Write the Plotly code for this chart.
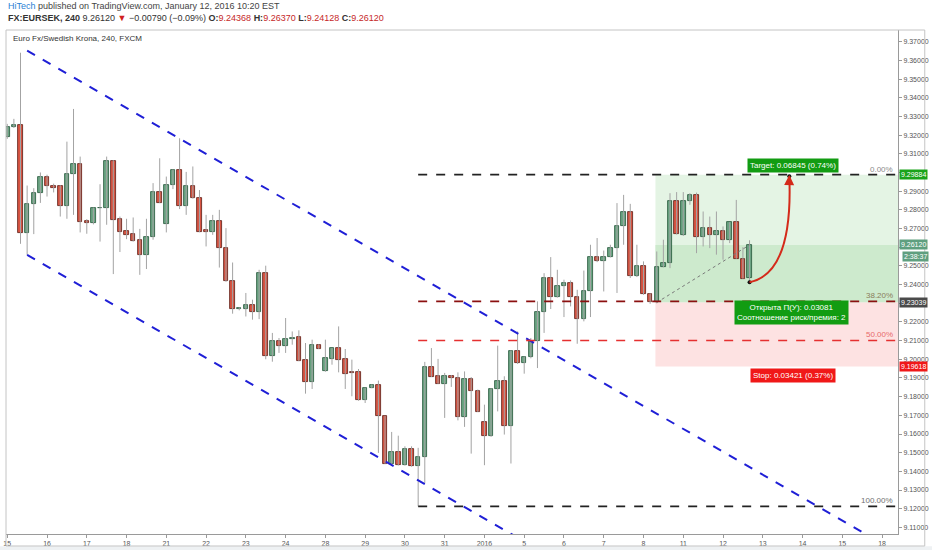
import plotly.graph_objects as go

# EUR/SEK, 240 min bars (6 per trading day), Dec 15 2015 .. Jan 12 2016
day_labels = ["15", "16", "17", "18", "21", "22", "23", "24", "28", "29", "30", "31",
              "2016", "5", "6", "7", "8", "11", "12", "13", "14", "15", "18"]
bars_per_day = 6

# right price scale (labels hidden where a price tag covers them)
price_ticks = [9.11, 9.12, 9.13, 9.14, 9.15, 9.16, 9.17, 9.18, 9.19, 9.20, 9.21, 9.22, 9.23,
               9.24, 9.25, 9.26, 9.27, 9.28, 9.29, 9.30, 9.31, 9.32, 9.33, 9.34, 9.35, 9.36, 9.37]
covered_ticks = [9.23, 9.26, 9.30]

opens = [
    9.3192, 9.3242, 9.3255, 9.2675, 9.2830, 9.2889,
    9.2975, 9.2928, 9.2925, 9.2823, 9.2991, 9.3046,
    9.2741, 9.2727, 9.2809, 9.2809, 9.3064, 9.2750,
    9.2688, 9.2672, 9.2636, 9.2556, 9.2657, 9.2895,
    9.2724, 9.2934, 9.3014, 9.2823, 9.2925, 9.2863,
    9.2693, 9.2679, 9.2741, 9.2595, 9.2420, 9.2270,
    9.2269, 9.2288, 9.2253, 9.2461, 9.2019, 9.2096,
    9.2073, 9.2109, 9.2117, 9.1998, 9.1876, 9.2078,
    9.1935, 9.2003, 9.2060, 9.2002, 9.1932, 9.1932,
    9.1780, 9.1847, 9.1860, 9.1695, 9.1440, 9.1504,
    9.1433, 9.1522, 9.1427, 9.1478, 9.1959, 9.1909,
    9.1868, 9.1909, 9.1900, 9.1691, 9.1895, 9.1829,
    9.1663, 9.1588, 9.1841, 9.1886, 9.1641, 9.2042,
    9.1980, 9.2010, 9.2096, 9.2251, 9.2435, 9.2336,
    9.2390, 9.2408, 9.2333, 9.2216, 9.2363, 9.2547,
    9.2524, 9.2547, 9.2595, 9.2711, 9.2791, 9.2447,
    9.2502, 9.2351, 9.2304, 9.2494, 9.2515, 9.2848,
    9.2663, 9.2848, 9.2880, 9.2652, 9.2705, 9.2666,
    9.2689, 9.2636, 9.2734, 9.2538, 9.24368,
]
highs = [
    9.3260, 9.3287, 9.3641, 9.2930, 9.2916, 9.3000,
    9.2988, 9.2940, 9.2932, 9.3165, 9.3340, 9.3085,
    9.2750, 9.2812, 9.2937, 9.3085, 9.3066, 9.2764,
    9.2752, 9.2759, 9.2698, 9.2752, 9.2943, 9.3076,
    9.2978, 9.3016, 9.3183, 9.3003, 9.3032, 9.2906,
    9.2773, 9.2773, 9.2800, 9.2702, 9.2518, 9.2278,
    9.2355, 9.2319, 9.2479, 9.2501, 9.2141, 9.2114,
    9.2221, 9.2149, 9.2155, 9.2087, 9.2105, 9.2080,
    9.2105, 9.2060, 9.2176, 9.2055, 9.1998, 9.1948,
    9.1848, 9.1865, 9.1886, 9.1697, 9.1611, 9.1591,
    9.1534, 9.1534, 9.1526, 9.1986, 9.2060, 9.2002,
    9.1927, 9.1916, 9.1930, 9.1935, 9.1905, 9.1838,
    9.1757, 9.1845, 9.2073, 9.1909, 9.2048, 9.2149,
    9.2015, 9.2114, 9.2310, 9.2461, 9.2547, 9.2479,
    9.2426, 9.2422, 9.2372, 9.2475, 9.2613, 9.2649,
    9.2582, 9.2613, 9.2836, 9.2880, 9.2832, 9.2613,
    9.2524, 9.2353, 9.2577, 9.2640, 9.2889, 9.2895,
    9.2895, 9.2889, 9.2892, 9.2791, 9.2764, 9.2791,
    9.2711, 9.2734, 9.2853, 9.2600, 9.26370,
]
lows = [
    9.3180, 9.3238, 9.2618, 9.2559, 9.2670, 9.2837,
    9.2871, 9.2893, 9.2764, 9.2752, 9.2773, 9.2679,
    9.2672, 9.2722, 9.2630, 9.2720, 9.2456, 9.2574,
    9.2643, 9.2630, 9.2452, 9.2483, 9.2640, 9.2836,
    9.2679, 9.2911, 9.2804, 9.2773, 9.2860, 9.2680,
    9.2604, 9.2666, 9.2491, 9.2415, 9.2244, 9.2262,
    9.2229, 9.2212, 9.2215, 9.2000, 9.1987, 9.2034,
    9.2034, 9.2078, 9.1990, 9.1816, 9.1841, 9.2055,
    9.1933, 9.1971, 9.1930, 9.1841, 9.1802, 9.1778,
    9.1766, 9.1845, 9.1499, 9.1440, 9.1436, 9.1431,
    9.1431, 9.1425, 9.12128, 9.1338, 9.1905, 9.1868,
    9.1686, 9.1852, 9.1673, 9.1638, 9.1495, 9.1718,
    9.1433, 9.1585, 9.1721, 9.1597, 9.1442, 9.1975,
    9.1923, 9.2005, 9.1953, 9.2141, 9.2269, 9.2330,
    9.2226, 9.2283, 9.2083, 9.2203, 9.2226, 9.2520,
    9.2363, 9.2545, 9.2355, 9.2613, 9.2435, 9.2440,
    9.2345, 9.2297, 9.2300, 9.2492, 9.2488, 9.2668,
    9.2660, 9.2827, 9.2568, 9.2604, 9.2595, 9.2560,
    9.2533, 9.2622, 9.2538, 9.2431, 9.24128,
]
closes = [
    9.3245, 9.3255, 9.2675, 9.2830, 9.2889, 9.2975,
    9.2925, 9.2919, 9.2823, 9.2991, 9.3046, 9.2737,
    9.2727, 9.2809, 9.2811, 9.3064, 9.2747, 9.2684,
    9.2666, 9.2634, 9.2556, 9.2657, 9.2895, 9.2839,
    9.2934, 9.3014, 9.2823, 9.2925, 9.2863, 9.2684,
    9.2679, 9.2741, 9.2595, 9.2420, 9.2269, 9.2272,
    9.2288, 9.2253, 9.2461, 9.2019, 9.2096, 9.2073,
    9.2109, 9.2114, 9.1992, 9.1876, 9.2078, 9.2057,
    9.2007, 9.2060, 9.1998, 9.1923, 9.1927, 9.1780,
    9.1847, 9.1860, 9.1695, 9.1440, 9.1504, 9.1433,
    9.1522, 9.1427, 9.1478, 9.1959, 9.1905, 9.1868,
    9.1909, 9.1900, 9.1691, 9.1895, 9.1829, 9.1718,
    9.1588, 9.1841, 9.1886, 9.1641, 9.2042, 9.1980,
    9.2010, 9.2096, 9.2251, 9.2435, 9.2336, 9.2393,
    9.2408, 9.2333, 9.2216, 9.2363, 9.2547, 9.2524,
    9.2547, 9.2595, 9.2711, 9.2791, 9.2447, 9.2502,
    9.2351, 9.2304, 9.2494, 9.2515, 9.2848, 9.2670,
    9.2848, 9.2880, 9.2652, 9.2705, 9.2666, 9.2689,
    9.2636, 9.2734, 9.2538, 9.2431, 9.26120,
]

# drawings on the chart
channel_x = [3, 140]
channel_upper = [9.3652, 9.0850]
channel_lower = [9.2559, 8.9757]

fib_start = 62
fib_low = 9.12128
fib_high = 9.29884
fib_levels = [0.0, 0.382, 0.5, 1.0]
fib_labels = ["0.00%", "38.20%", "50.00%", "100.00%"]
fib_line_colors = ["#222222", "#8b1010", "#e53030", "#222222"]
fib_text_colors = ["#8a8a8a", "#8a7d5a", "#e86a6a", "#707070"]

pos_start = 97.8
entry = 9.23039
target = 9.29884
stop = 9.19618
last_price = 9.26120
countdown = "2:38:37"

arrow_from = (112, 9.2412)
arrow_ctrl = (118.6, 9.2461)
arrow_to = (118, 9.2980)

x_max = 134.4
y_min, y_max = 9.10647, 9.37626

FONT = "Liberation Sans, Arial, sans-serif"
UP_FILL, UP_LINE = "#6ba583", "#225437"
DN_FILL, DN_LINE = "#d75442", "#5b1a13"

idx = list(range(len(opens)))
tick_vals = [i * bars_per_day for i in range(len(day_labels))]
price_text = ["" if t in covered_ticks else f"{t:.5f}" for t in price_ticks]

fig = go.Figure()

# wicks
wx, wy = [], []
for i, h, l in zip(idx, highs, lows):
    wx += [i, i, None]
    wy += [l, h, None]
fig.add_trace(go.Scatter(x=wx, y=wy, mode="lines", line=dict(color="#a3a3a3", width=1),
                         hoverinfo="skip", showlegend=False))

# bodies
base = [min(o, c) for o, c in zip(opens, closes)]
height = [max(abs(c - o), 0.00008) for o, c in zip(opens, closes)]
fill = [UP_FILL if c >= o else DN_FILL for o, c in zip(opens, closes)]
edge = [UP_LINE if c >= o else DN_LINE for o, c in zip(opens, closes)]
fig.add_trace(go.Bar(x=idx, y=height, base=base, width=0.68,
                     marker=dict(color=fill, line=dict(color=edge, width=0.8)),
                     showlegend=False, hoverinfo="skip"))

# parallel channel
for ys in (channel_upper, channel_lower):
    fig.add_trace(go.Scatter(x=channel_x, y=ys, mode="lines",
                             line=dict(color="#1f1fd6", width=2, dash="dash"),
                             showlegend=False, hoverinfo="skip"))

# long position tool
shapes = [
    dict(type="rect", xref="x", yref="y", x0=pos_start, x1=x_max, y0=entry, y1=target,
         fillcolor="#e4f4e4", line_width=0, layer="below"),
    dict(type="rect", xref="x", yref="y", x0=pos_start, x1=x_max, y0=entry, y1=last_price,
         fillcolor="#cdeacd", line_width=0, layer="below"),
    dict(type="rect", xref="x", yref="y", x0=pos_start, x1=x_max, y0=stop, y1=entry,
         fillcolor="#fde2e2", line_width=0, layer="below"),
]

# fibonacci levels
annotations = []
for lv, lab, lc, tc in zip(fib_levels, fib_labels, fib_line_colors, fib_text_colors):
    price = fib_high - lv * (fib_high - fib_low)
    shapes.append(dict(type="line", xref="x", yref="y", x0=fib_start, x1=x_max,
                       y0=price, y1=price, line=dict(color=lc, width=1.6, dash="dash"),
                       layer="above"))
    annotations.append(dict(xref="paper", yref="y", x=0.997, y=price, text=lab,
                            showarrow=False, xanchor="right", yanchor="bottom", yshift=-1,
                            font=dict(family=FONT, size=8, color=tc)))

# curved arrow towards the target
shapes.append(dict(type="path", xref="x", yref="y", layer="above",
                   path=f"M {arrow_from[0]},{arrow_from[1]} Q {arrow_ctrl[0]},{arrow_ctrl[1]} "
                        f"{arrow_to[0]},{arrow_to[1]}",
                   line=dict(color="#d42a1a", width=2)))
annotations.append(dict(x=arrow_to[0], y=arrow_to[1] + 0.0006, ax=arrow_to[0] - 0.02,
                        ay=arrow_to[1] - 0.004, axref="x", ayref="y", xref="x", yref="y",
                        text="", showarrow=True, arrowhead=2, arrowsize=1, arrowwidth=2,
                        arrowcolor="#d42a1a"))
fig.add_trace(go.Scatter(x=[pos_start + 0.2, arrow_from[0]], y=[entry, last_price], mode="lines",
                         line=dict(color="#7a7a7a", width=1, dash="dot"),
                         showlegend=False, hoverinfo="skip"))
fig.add_trace(go.Scatter(x=[arrow_from[0], arrow_to[0]], y=[arrow_from[1], arrow_to[1]],
                         mode="markers", marker=dict(color="#111111", size=4),
                         showlegend=False, hoverinfo="skip"))

# position labels
box_x = 118.6
annotations += [
    dict(x=box_x, y=target, xref="x", yref="y", yanchor="bottom", yshift=2, showarrow=False,
         text=f"Target: {target - entry:.5f} ({(target - entry) / entry * 100:.2f}%)",
         bgcolor="#129c12", borderpad=2, font=dict(family=FONT, size=8, color="white")),
    dict(x=box_x - 0.3, y=entry, xref="x", yref="y", yanchor="top", yshift=3, showarrow=False,
         text=f"Открыта П(У): {last_price - entry:.5f}<br>"
              f"Соотношение риск/премия: {round((target - entry) / (entry - stop))}",
         bgcolor="#129c12", borderpad=2, font=dict(family=FONT, size=8, color="white")),
    dict(x=box_x, y=stop, xref="x", yref="y", yanchor="top", yshift=-2, showarrow=False,
         text=f"Stop: {entry - stop:.5f} ({(entry - stop) / entry * 100:.2f}%)",
         bgcolor="#f01818", borderpad=2, font=dict(family=FONT, size=8, color="white")),
]

# price tags on the right scale
for price, col in ((target, "#1aa31a"), (last_price, "#5f9f7f"), (entry, "#4a4a4a"), (stop, "#f01818")):
    annotations.append(dict(xref="paper", yref="y", x=1, y=price, xanchor="left", xshift=1,
                            text=f"{price:.5f}", showarrow=False, bgcolor=col, borderpad=1,
                            font=dict(family=FONT, size=7, color="white")))
annotations.append(dict(xref="paper", yref="y", x=1, y=last_price, xanchor="left", xshift=4,
                        yshift=-12, text=countdown, showarrow=False, bgcolor="#5f9f7f",
                        borderpad=1, font=dict(family=FONT, size=7, color="white")))

# header and title
annotations += [
    dict(xref="paper", yref="paper", x=0.0, y=1.0476, xanchor="left", yanchor="middle",
         showarrow=False,
         text="<span style='color:#2a7fd4'>HiTech</span> published on TradingView.com, "
              "January 12, 2016 10:20 EST",
         font=dict(family=FONT, size=9, color="#444444")),
    dict(xref="paper", yref="paper", x=0.0, y=1.0238, xanchor="left", yanchor="middle",
         showarrow=False,
         text="<b>FX:EURSEK, 240</b> 9.26120 <span style='color:#d02020'>▼</span> "
              "−0.00790 (−0.09%) <b>O:</b><span style='color:#c62828'>9.24368</span> "
              "<b>H:</b><span style='color:#c62828'>9.26370</span> "
              "<b>L:</b><span style='color:#c62828'>9.24128</span> "
              "<b>C:</b><span style='color:#c62828'>9.26120</span>",
         font=dict(family=FONT, size=9, color="#333333")),
    dict(xref="paper", yref="paper", x=0.006, y=0.984, xanchor="left", yanchor="middle",
         showarrow=False, text="Euro Fx/Swedish Krona, 240, FXCM",
         font=dict(family=FONT, size=8, color="#333333")),
]

# outer frame of the chart widget
shapes += [
    dict(type="rect", xref="paper", yref="paper", x0=0, x1=1.03, y0=-0.0238, y1=1,
         line=dict(color="#c4c4c4", width=1), fillcolor="rgba(0,0,0,0)", layer="above"),
    dict(type="rect", xref="paper", yref="paper", x0=-0.01, x1=1.04, y0=-0.04, y1=-0.0245,
         line_width=0, fillcolor="#eef1f3", layer="below"),
]

fig.update_layout(
    width=932, height=550,
    margin=dict(l=3, r=29, t=30, b=16),
    paper_bgcolor="white", plot_bgcolor="white",
    shapes=shapes, annotations=annotations,
    bargap=0, showlegend=False,
    font=dict(family=FONT, size=7, color="#555555"),
    xaxis=dict(range=[-0.19, x_max], tickmode="array", tickvals=tick_vals, ticktext=day_labels,
               showgrid=False, zeroline=False, showline=True, linecolor="#9a9a9a",
               ticks="outside", ticklen=3, tickcolor="#9a9a9a",
               tickfont=dict(family=FONT, size=7, color="#555555")),
    yaxis=dict(range=[y_min, y_max], side="right", tickmode="array", tickvals=price_ticks,
               ticktext=price_text,
               showgrid=False, zeroline=False, showline=True, linecolor="#9a9a9a",
               ticks="outside", ticklen=3, tickcolor="#9a9a9a",
               tickfont=dict(family=FONT, size=7, color="#555555")),
)

# page body margin would shift the 932x550 figure; remove it
fig.write_html("out.html", config={"displayModeBar": False},
               post_script="document.body.style.margin='0';")
